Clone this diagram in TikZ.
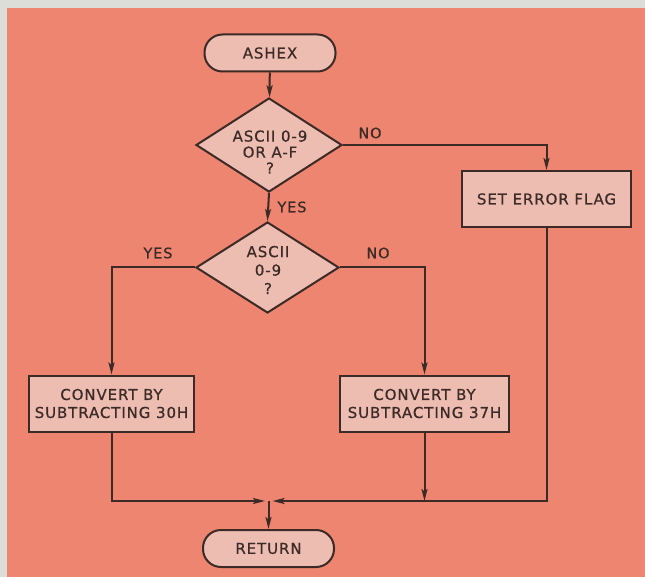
\documentclass[tikz,border=0pt]{standalone}
\usepackage{fontspec}
\setmainfont{DejaVu Sans}[LetterSpace=6,FakeBold=0.6]
\usetikzlibrary{shapes.geometric,arrows.meta}
\definecolor{paper}{HTML}{DCDCD8}
\definecolor{salmon}{HTML}{EE8570}
\definecolor{boxfill}{HTML}{EDBDB2}
\definecolor{ink}{HTML}{3B2A26}
\tikzset{
  base/.style={draw=ink, line width=2pt, fill=boxfill, text=ink, inner sep=0pt,
    font=\fontsize{15}{18}\selectfont, align=center},
  term/.style={base, rectangle, rounded corners=18pt, minimum width=131pt, minimum height=37pt},
  proc/.style={base, rectangle, minimum height=56pt},
  dec/.style={base, diamond},
  dtxt/.style={text=ink, align=center, inner sep=0pt},
  lbl/.style={text=ink, inner sep=0pt, font=\fontsize{14.5}{16}\selectfont},
  conn/.style={draw=ink, line width=2pt},
  arr/.style={conn, -{Stealth[length=12pt,width=6pt,inset=2.5pt]}}
}
\begin{document}
\begin{tikzpicture}[x=1pt,y=-1pt]
\useasboundingbox (0,0) rectangle (645,577);
\fill[paper] (0,0) rectangle (645,577);
\fill[salmon] (7,8) rectangle (645,577);

\node[term] (a) at (270,53) {ASHEX};
\node[dec, minimum width=146pt, minimum height=94pt] (d1) at (269,145) {};
\node[dtxt, font=\fontsize{15}{16}\selectfont] (d1t) at (270,152) {ASCII 0-9\\OR A-F\\?};
\node[proc, minimum width=169pt] (err) at (546.5,199) {SET ERROR FLAG};
\node[dec, minimum width=143pt, minimum height=91pt] (d2) at (267.5,267.5) {};
\node[dtxt, font=\fontsize{15}{18.5}\selectfont] (d2t) at (268,270) {ASCII\\0-9\\?};
\node[proc, minimum width=165pt] (c30) at (111.5,403.5) {CONVERT BY\\SUBTRACTING 30H};
\node[proc, minimum width=169pt] (c37) at (424.5,403.5) {CONVERT BY\\SUBTRACTING 37H};
\node[term] (r) at (268.5,548.5) {RETURN};

\node[lbl] (l1) at (370,133) {NO};
\node[lbl] (l2) at (292,207) {YES};
\node[lbl] (l3) at (158,253) {YES};
\node[lbl] (l4) at (378,253) {NO};

\coordinate (mL) at (265,501);
\coordinate (mR) at (272.5,501);
\coordinate (m) at (268.5,501);
\coordinate (j37) at (424.5,501);

\draw[arr] (a) -- (d1);
\draw[arr] (d1.east) -| (err.north);
\draw[arr] (d1.south) -- (d2.north);
\draw[arr] (d2.west) -| (c30.north);
\draw[arr] (d2.east) -| (c37.north);
\draw[arr] (c30.south) |- (mL);
\draw[arr] (err.south) |- (mR);
\draw[arr] (c37.south) -- (j37);
\draw[arr] (m) -- (r.north);
\end{tikzpicture}
\end{document}
